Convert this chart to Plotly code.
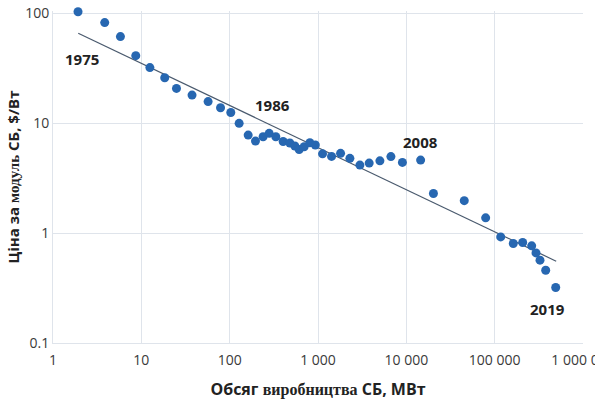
import numpy as np
import plotly.graph_objects as go

# Cumulative PV module production (MW) and module price ($/W), 1975-2019
years = list(range(1975, 2020))
cum_mw = [1.92, 3.85, 5.80, 8.65, 12.5, 18.4, 25.0, 37.5, 57.0, 78.8,
          103, 128, 162, 196, 239, 280, 333, 403, 480, 547,
          612, 697, 809, 933, 1126, 1424, 1801, 2296, 2980, 3797,
          5021, 6689, 9028, 14515, 20270, 45250, 79070, 117000, 162400, 207600,
          262500, 293700, 326000, 378200, 490900]
price = [103, 82.1, 61.3, 41.1, 32.0, 25.9, 20.7, 18.0, 15.7, 13.8,
         12.5, 9.95, 7.79, 6.87, 7.52, 8.07, 7.52, 6.80, 6.59, 6.19,
         5.75, 6.10, 6.63, 6.32, 5.26, 4.98, 5.31, 4.78, 4.15, 4.33,
         4.54, 4.96, 4.39, 4.61, 2.29, 1.97, 1.375, 0.923, 0.804, 0.821,
         0.765, 0.660, 0.567, 0.459, 0.320]

# Power-law trend line end points
trend_x = [1.93, 497000]
trend_y = [65.7, 0.555]

x_ticks = [1, 10, 100, 1000, 10000, 100000, 1000000]
x_ticktext = ["1", "10", "100", "1 000", "10 000", "100 000", "1 000 000"]
y_ticks = [0.1, 1, 10, 100]
y_ticktext = ["0.1", "1", "10", "100"]

# Years that get a text label, with pixel offsets from their point
label_years = [1975, 1986, 2008, 2019]
label_shift = [(4, -47), (33, 18), (0, 18), (-8, -22)]

# A little headroom above 100 so the 1975 point stays inside the range
X_RANGE = [0, 6]
Y_RANGE = [-1, 2.02]

SANS = "Open Sans, sans-serif"
SERIF = "Liberation Serif, DejaVu Serif, serif"

fig = go.Figure()

fig.add_trace(go.Scatter(
    x=trend_x, y=trend_y, mode="lines",
    line=dict(color="#4a5a6e", width=1.2),
    hoverinfo="skip", showlegend=False,
))

fig.add_trace(go.Scatter(
    x=cum_mw, y=price, mode="markers",
    marker=dict(size=9, color="#2767b1", line=dict(width=0)),
    text=[str(y) for y in years],
    cliponaxis=False, showlegend=False,
))

for yr, (dx, dy) in zip(label_years, label_shift):
    i = years.index(yr)
    fig.add_annotation(
        x=np.log10(cum_mw[i]), y=np.log10(price[i]),
        xref="x", yref="y", text=f"<b>{yr}</b>", showarrow=False,
        xanchor="center", yanchor="middle",
        xshift=dx, yshift=dy,
        font=dict(family=SANS, size=15, color="#222222"),
    )

x_title = (f"<b>Обсяг <span style='font-family:{SERIF}'>виробництва</span>"
           f" СБ, МВт</b>")
y_title = (f"<b>Ціна за <span style='font-family:{SERIF}'>модуль</span>"
           f" СБ, $/Вт</b>")

grid = "#dfe4eb"
fig.update_xaxes(
    type="log", range=X_RANGE,
    tickvals=x_ticks, ticktext=x_ticktext,
    tickfont=dict(family=SANS, size=14, color="#3a3a3a"),
    ticklabeloverflow="allow", ticklabelstandoff=4,
    showgrid=True, gridcolor=grid, gridwidth=1,
    showline=True, linecolor=grid, linewidth=1, mirror=False,
    zeroline=False, ticks="",
    title=dict(text=x_title, font=dict(family=SANS, size=16, color="#222222"),
               standoff=18),
)
fig.update_yaxes(
    type="log", range=Y_RANGE,
    tickvals=y_ticks, ticktext=y_ticktext,
    tickfont=dict(family=SANS, size=14, color="#3a3a3a"),
    showgrid=True, gridcolor=grid, gridwidth=1,
    showline=True, linecolor=grid, linewidth=1,
    zeroline=False, ticks="",
    title=dict(text=y_title, font=dict(family=SANS, size=15, color="#222222"),
               standoff=1),
)

fig.update_layout(
    width=595, height=400,
    margin=dict(l=53, r=12, t=11, b=57, autoexpand=False),
    paper_bgcolor="white", plot_bgcolor="white",
    showlegend=False,
)

fig.write_html("out.html")
